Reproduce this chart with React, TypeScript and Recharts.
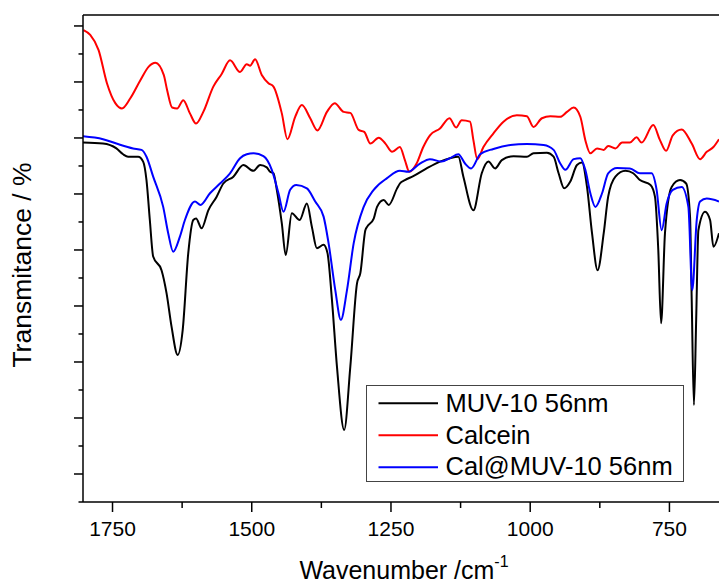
import React from "react";
import { LineChart, Line, XAxis, YAxis, ReferenceLine, Legend } from "recharts";

// Wavenumber (cm-1) and transmittance (%)
const muvWave = [1803, 1767, 1743, 1731, 1722, 1704, 1695, 1689, 1683, 1677, 1662, 1653, 1644, 1633, 1624, 1614, 1605, 1600, 1590, 1578, 1563, 1551, 1533, 1515, 1497, 1485, 1473, 1467, 1461, 1455, 1446, 1439, 1428, 1414, 1401, 1392, 1383, 1371, 1364, 1356, 1347, 1334, 1323, 1311, 1305, 1296, 1293, 1281, 1275, 1263, 1254, 1239, 1234, 1225, 1210, 1186, 1162, 1144, 1129, 1120, 1102, 1087, 1075, 1063, 1051, 1030, 1006, 994, 970, 958, 949, 939, 928, 916, 907, 898, 889, 879, 868, 860, 847, 829, 815, 803, 784, 776, 770, 765, 758, 746, 731, 720, 713, 710, 706, 702, 698, 686, 677, 671, 661];
const muvT = [73.8, 73.6, 72.6, 71.4, 70.9, 70.9, 69.9, 66.1, 57.9, 50.4, 47.6, 42.9, 36.0, 30.2, 35.3, 51.1, 57.9, 58.2, 56.2, 59.9, 62.7, 65.4, 66.8, 69.2, 68.0, 69.2, 68.7, 67.8, 67.5, 64.1, 57.2, 50.7, 59.3, 57.9, 61.3, 56.5, 52.1, 52.8, 51.1, 41.5, 27.8, 14.8, 27.8, 44.9, 47.0, 55.8, 56.5, 58.2, 60.6, 62.0, 61.0, 64.4, 65.4, 66.1, 66.9, 68.5, 69.9, 70.6, 70.9, 66.8, 59.9, 67.5, 69.9, 68.5, 70.2, 71.0, 70.9, 71.6, 71.7, 70.9, 67.5, 64.4, 65.8, 69.2, 69.7, 64.7, 55.2, 47.6, 55.2, 62.7, 66.8, 68.0, 67.5, 66.1, 65.1, 62.7, 51.7, 36.7, 55.2, 64.7, 66.1, 65.4, 58.6, 41.5, 19.9, 37.4, 55.8, 59.6, 57.9, 52.4, 55.2];

const calceinWave = [1802, 1790, 1775, 1760, 1745, 1733, 1718, 1700, 1685, 1673, 1658, 1652, 1643, 1634, 1623, 1611, 1600, 1587, 1569, 1554, 1539, 1521, 1509, 1503, 1494, 1482, 1470, 1461, 1446, 1436, 1422, 1410, 1395, 1382, 1365, 1351, 1335, 1323, 1308, 1298, 1287, 1272, 1260, 1248, 1234, 1225, 1217, 1204, 1192, 1180, 1162, 1145, 1133, 1123, 1108, 1102, 1095, 1084, 1066, 1048, 1024, 1006, 994, 979, 964, 946, 934, 922, 910, 901, 892, 880, 868, 860, 847, 835, 821, 809, 800, 779, 767, 756, 744, 728, 710, 695, 683, 671, 661];
const calceinT = [96.9, 95.9, 92.8, 86.0, 81.9, 80.8, 82.9, 86.6, 89.4, 90.2, 87.7, 84.6, 81.0, 80.8, 82.5, 79.8, 77.7, 80.1, 85.3, 87.9, 90.7, 88.3, 89.9, 89.6, 90.9, 87.7, 86.0, 85.3, 79.8, 74.5, 79.1, 81.5, 78.8, 76.3, 80.1, 81.9, 80.1, 79.9, 76.4, 76.0, 73.6, 74.8, 73.6, 71.9, 72.9, 70.2, 67.8, 69.5, 72.9, 75.3, 76.7, 78.8, 76.9, 78.4, 78.1, 74.3, 70.4, 72.9, 75.7, 78.1, 79.4, 79.2, 77.0, 78.8, 79.2, 79.1, 80.1, 81.0, 79.1, 74.3, 71.6, 72.6, 72.3, 73.1, 72.6, 73.8, 73.8, 74.9, 73.8, 77.4, 74.3, 72.1, 75.3, 76.5, 73.6, 70.4, 71.9, 72.9, 74.5];

const calMuvWave = [1803, 1767, 1743, 1713, 1698, 1689, 1677, 1659, 1650, 1641, 1629, 1620, 1602, 1592, 1575, 1557, 1539, 1521, 1509, 1497, 1479, 1464, 1452, 1443, 1431, 1420, 1401, 1386, 1371, 1362, 1350, 1340, 1329, 1317, 1299, 1281, 1257, 1234, 1219, 1198, 1180, 1159, 1144, 1129, 1117, 1106, 1090, 1066, 1036, 1006, 976, 958, 946, 937, 922, 910, 901, 892, 883, 871, 860, 844, 821, 803, 782, 773, 764, 755, 744, 728, 716, 709, 701, 695, 683, 661];
const calMuvT = [75.1, 74.5, 73.6, 72.6, 72.3, 70.9, 66.8, 60.6, 55.2, 51.4, 54.5, 57.9, 61.7, 61.0, 63.4, 65.4, 67.5, 70.6, 71.4, 71.6, 71.0, 68.2, 63.4, 59.6, 64.1, 65.1, 64.4, 61.7, 58.6, 53.1, 43.5, 37.4, 43.5, 53.1, 60.6, 64.1, 66.5, 68.0, 67.8, 69.5, 70.4, 69.9, 70.6, 71.4, 69.5, 68.5, 71.4, 72.5, 73.3, 73.5, 73.3, 72.3, 69.5, 68.2, 70.4, 70.6, 68.2, 63.4, 60.6, 63.4, 67.5, 68.6, 68.5, 67.5, 67.5, 64.1, 55.8, 61.3, 64.1, 64.7, 60.6, 43.5, 57.9, 61.7, 62.3, 61.7];

const seriesNames = ["MUV-10 56nm", "Calcein", "Cal@MUV-10 56nm"];
const seriesColors = ["#000000", "#ff0000", "#0000ff"];

const xMajorTicks = [1750, 1500, 1250, 1000, 750];
const xMinorTicks = [1625, 1375, 1125, 875];
const yMajorTicks = [5.75, 17.25, 28.75, 40.25, 51.75, 63.25, 74.75, 86.25, 97.75];
const yMinorTicks = [0, 11.5, 23, 34.5, 46, 57.5, 69, 80.5, 92];

const xDomain = [661, 1803];
const yDomain = [0, 100];

const FONT = "'Liberation Sans', Arial, Helvetica, sans-serif";

const zip = (w: number[], t: number[]) => w.map((v, i) => ({ w: v, t: t[i] }));
const muvData = zip(muvWave, muvT);
const calceinData = zip(calceinWave, calceinT);
const calMuvData = zip(calMuvWave, calMuvT);

const XTick = (props: any) => {
  const { x, y, payload } = props;
  const v = payload.value;
  const major = xMajorTicks.includes(v);
  return (
    <g>
      <line x1={x} x2={x} y1={y} y2={y + (major ? 10 : 6)} stroke="#000" strokeWidth={1.5} />
      {major && (
        <text x={x} y={y + 34} textAnchor="middle" fontSize={21} fontFamily={FONT} fill="#000">
          {v}
        </text>
      )}
    </g>
  );
};

const YTick = (props: any) => {
  const { x, y, payload } = props;
  const major = yMajorTicks.includes(payload.value);
  return <line x1={x - (major ? 9 : 4.5)} x2={x} y1={y} y2={y} stroke="#000" strokeWidth={1.5} />;
};

const XTitle = () => (
  <text x={404} y={579} textAnchor="middle" fontSize={25} fontFamily={FONT} fill="#000">
    Wavenumber /cm
    <tspan dy={-12} fontSize={16}>-1</tspan>
  </text>
);

const YTitle = () => (
  <text
    x={31}
    y={265}
    transform="rotate(-90, 31, 265)"
    textAnchor="middle"
    fontSize={26.5}
    fontFamily={FONT}
    fill="#000"
  >
    Transmitance / %
  </text>
);

const LegendBox = () => (
  <svg width={320} height={99} style={{ display: "block" }}>
    <rect x={0.5} y={0.5} width={317} height={96} fill="#fff" stroke="#444" strokeWidth={1} />
    {seriesNames.map((n, i) => (
      <g key={n}>
        <line x1={12.5} x2={72} y1={18.3 + i * 32} y2={18.3 + i * 32} stroke={seriesColors[i]} strokeWidth={2} />
        <text x={79.5} y={27 + i * 31.6} fontSize={25.5} fontFamily={FONT} fill="#000">
          {n}
        </text>
      </g>
    ))}
  </svg>
);

export default function App() {
  return (
    <div style={{ position: "absolute", left: 0, top: 0, width: 719, height: 584, background: "#fff" }}>
      <LineChart width={719} height={584} margin={{ top: 15, right: 0, left: 0, bottom: 0 }}>
        <XAxis
          dataKey="w"
          type="number"
          domain={xDomain}
          reversed
          allowDataOverflow
          ticks={[...xMajorTicks, ...xMinorTicks].sort((a, b) => b - a)}
          interval={0}
          tickSize={0}
          tickMargin={0}
          tickLine={false}
          tick={<XTick />}
          height={82}
          axisLine={{ stroke: "#000", strokeWidth: 1.5 }}
          label={<XTitle />}
        />
        <YAxis
          type="number"
          domain={yDomain}
          allowDataOverflow
          ticks={[...yMinorTicks, ...yMajorTicks].sort((a, b) => a - b)}
          interval={0}
          tickSize={0}
          tickMargin={0}
          tickLine={false}
          tick={<YTick />}
          width={83}
          axisLine={{ stroke: "#000", strokeWidth: 1.5 }}
          label={<YTitle />}
        />
        <ReferenceLine y={100} stroke="#000" strokeWidth={1.5} />
        <Line data={muvData} dataKey="t" name={seriesNames[0]} stroke={seriesColors[0]} strokeWidth={2} dot={false} type="monotone" isAnimationActive={false} />
        <Line data={calceinData} dataKey="t" name={seriesNames[1]} stroke={seriesColors[1]} strokeWidth={2} dot={false} type="monotone" isAnimationActive={false} />
        <Line data={calMuvData} dataKey="t" name={seriesNames[2]} stroke={seriesColors[2]} strokeWidth={2} dot={false} type="monotone" isAnimationActive={false} />
        <Legend
          layout="horizontal"
          verticalAlign="middle"
          align="center"
          content={<LegendBox />}
          wrapperStyle={{ position: "absolute", left: 366, top: 385, width: 320, height: 99 }}
        />
      </LineChart>
    </div>
  );
}
